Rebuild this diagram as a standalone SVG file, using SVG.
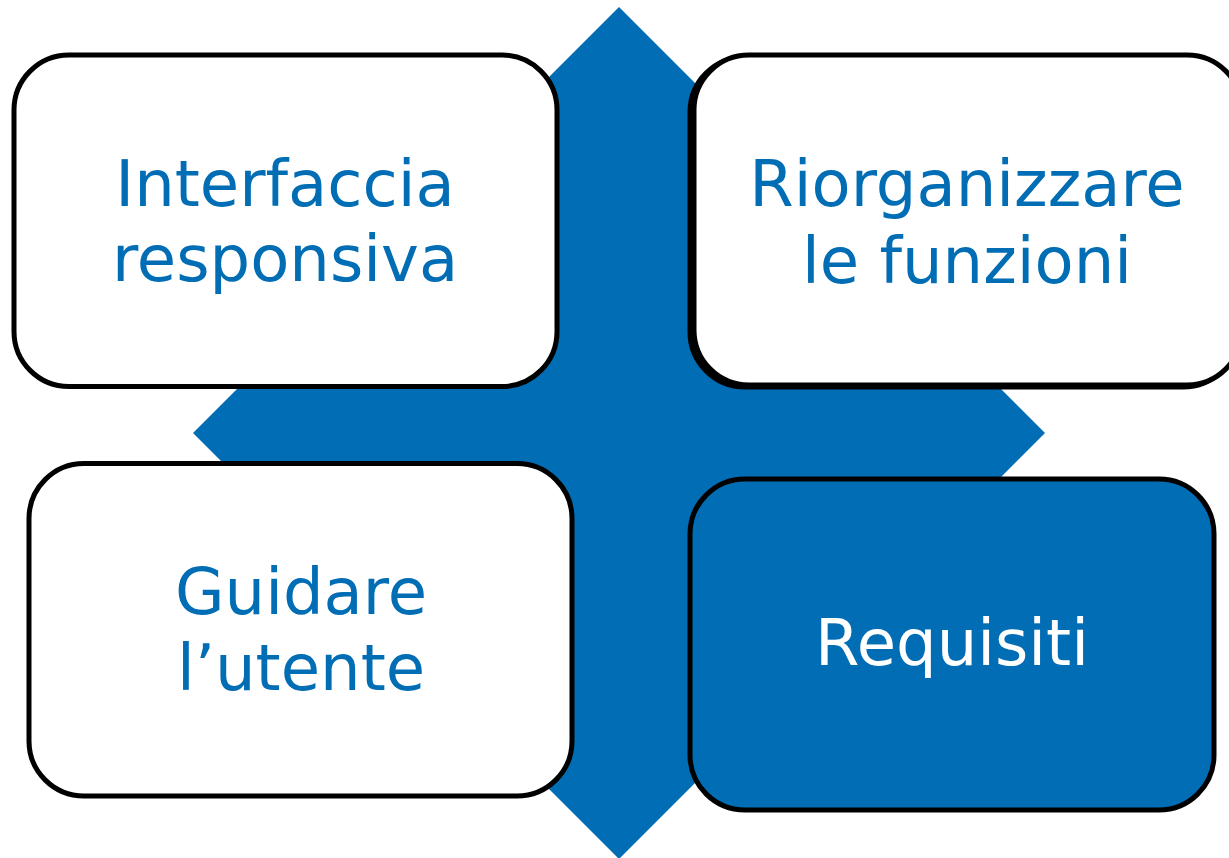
<svg xmlns="http://www.w3.org/2000/svg" width="1229" height="858" viewBox="0 0 1229 858">
<style>
.box{stroke:#000;stroke-width:5;}
.w{fill:#fff;}
.b{fill:#006DB4;}
.t{font-family:"DejaVu Sans",Verdana,sans-serif;font-size:64px;text-anchor:middle;}
.tb{fill:#006DB4;}
.tw{fill:#fff;}
</style>
<rect width="1229" height="858" fill="#fff"/>
<g id="diamond">
<polygon points="619,7 1045,433 619,859 193,433" fill="#006DB4"/>
</g>
<g id="connectors"></g>
<g id="node-interfaccia">
<rect class="box w" x="14" y="55" width="543" height="331.5" rx="55"/>
<text class="t tb" x="285" y="206">Interfaccia</text>
<text class="t tb" x="285" y="281">responsiva</text>
</g>
<g id="node-riorganizzare">
<rect class="box w" x="690" y="57" width="548" height="330" rx="55"/>
<rect class="box w" x="694" y="55" width="548" height="330" rx="55"/>
<text class="t tb" x="967" y="206">Riorganizzare</text>
<text class="t tb" x="967" y="283">le funzioni</text>
</g>
<g id="node-guidare">
<rect class="box w" x="29" y="463.5" width="543" height="332.5" rx="55"/>
<text class="t tb" x="301" y="614">Guidare</text>
<text class="t tb" x="301" y="690">l’utente</text>
</g>
<g id="node-requisiti">
<rect class="box b" x="690" y="479" width="524" height="331" rx="55"/>
<text class="t tw" x="952" y="665">Requisiti</text>
</g>
</svg>
